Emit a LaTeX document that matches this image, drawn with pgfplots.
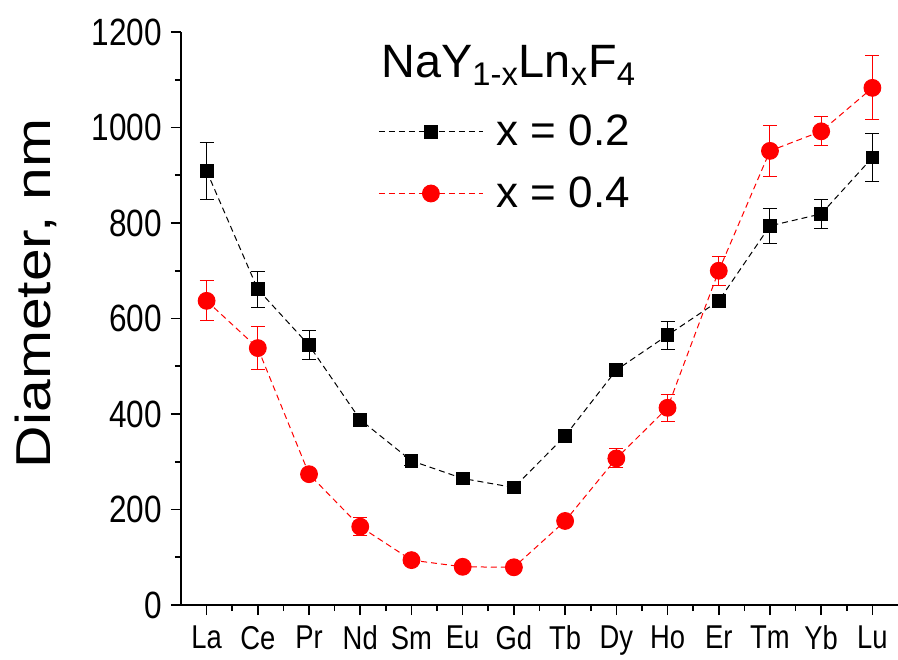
\documentclass[border=0pt]{standalone}
\usepackage{fontspec}
\setmainfont{Liberation Sans}
\newfontfamily\tickfont[FakeStretch=0.83]{Liberation Sans}
\newfontfamily\ylabfont[FakeStretch=1.2]{Liberation Sans}
\usepackage{pgfplots}
\usepackage{pgfplotstable}
\pgfplotsset{compat=1.18}

% index, diameter (nm), error
\pgfplotstableread{
x y e
0 909 60
1 661 37
2 544 30
3 388 10
4 302 10
5 265 6
6 246 6
7 354 7
8 492 10
9 565 29
10 637 6
11 794 37
12 819 30
13 937 50
}\lowx

\pgfplotstableread{
x y e
0 637 42
1 538 45
2 274 6
3 164 19
4 94 5
5 80 4
6 79 4
7 176 5
8 307 20
9 413 28
10 700 30
11 951 53
12 992 30
13 1083 67
}\highx

\begin{document}
\begin{tikzpicture}
\path[use as bounding box] (-90.5pt,-27pt) rectangle (358.5pt,302.5pt);
\begin{axis}[
	scale only axis,
	width=358.5pt,
	height=286.5pt,
	axis x line=bottom,
	axis y line=left,
	axis line style={-, line width=1pt},
	tick align=outside,
	tick style={black, line width=0.8pt},
	major tick length=5pt,
	minor tick length=3pt,
	xmin=-0.5, xmax=13.5,
	ymin=0, ymax=1200,
	xtick={0,...,13},
	xticklabels={La,Ce,Pr,Nd,Sm,Eu,Gd,Tb,Dy,Ho,Er,Tm,Yb,Lu},
	minor x tick num=1,
	ytick={0,200,...,1200},
	minor y tick num=1,
	/pgf/number format/assume math mode=true,
	/pgf/number format/1000 sep={},
	yticklabel style={font=\tickfont\fontsize{19}{22}\selectfont, xshift=-1pt},
	xticklabel style={font=\tickfont\fontsize{16.5}{19}\selectfont, yshift=-2pt},
	ylabel={Diameter, nm},
	ylabel style={at={(axis description cs:-0.203,0.544)}, anchor=center, font=\ylabfont\fontsize{24.5}{28}\selectfont},
	legend style={draw=none, fill=none, at={(axis description cs:0.2748,0.863)}, anchor=north west,
		font=\fontsize{22}{26}\selectfont, inner sep=0pt, row sep=10pt, column sep=4.5pt},
	legend cell align=left,
	legend image code/.code={\draw[mark repeat=2, mark phase=2, #1] plot coordinates {(0pt,0pt) (26pt,0pt) (52pt,0pt)};},
	error bars/error bar style={line width=0.5pt, solid},
	error bars/error mark options={rotate=90, mark size=3.5pt, line width=0.5pt},
]

\addplot[black, densely dashed, line width=0.5pt, mark=square*, mark size=3.2pt, mark options={solid},
	error bars/.cd, y dir=both, y explicit]
	table[x=x, y=y, y error=e] {\lowx};
\addlegendentry{x = 0.2}

\addplot[red, densely dashed, line width=0.5pt, mark=*, mark size=4.2pt, mark options={solid},
	error bars/.cd, y dir=both, y explicit]
	table[x=x, y=y, y error=e] {\highx};
\addlegendentry{x = 0.4}

\node[font=\fontsize{23.4}{27}\selectfont] at (axis cs:5.9,1130) {NaY\textsubscript{1-x}Ln\textsubscript{x}F\textsubscript{4}};

\end{axis}
\end{tikzpicture}
\end{document}
